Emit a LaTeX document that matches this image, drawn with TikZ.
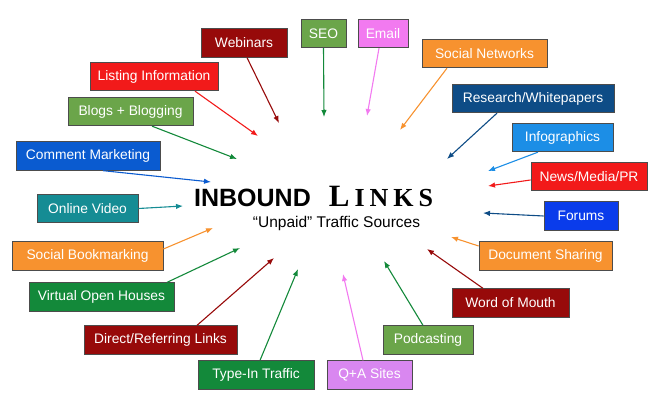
\documentclass[tikz,border=0pt]{standalone}
\usepackage{fontspec}
\setmainfont{Liberation Sans}
\newfontfamily\titleserif{Liberation Serif}
\usetikzlibrary{arrows.meta}
\definecolor{wine}{HTML}{970A0A}
\definecolor{leaf}{HTML}{6BA54A}
\definecolor{pinkv}{HTML}{F27AF0}
\definecolor{tang}{HTML}{F7922F}
\definecolor{deepblue}{HTML}{0E4C86}
\definecolor{sky}{HTML}{1C8EE6}
\definecolor{scarlet}{HTML}{F21A1A}
\definecolor{royal}{HTML}{0A3CEB}
\definecolor{lilac}{HTML}{D987F0}
\definecolor{forest}{HTML}{13893A}
\definecolor{tealx}{HTML}{158C94}
\definecolor{cobalt}{HTML}{0A5BD0}

\begin{document}
\begin{tikzpicture}[x=1pt,y=-1pt,
  src/.style={rectangle,draw=black!70,line width=0.8pt,fill=#1,text=white,
              font=\fontsize{13.8}{16}\selectfont,minimum height=28.5pt,inner sep=0pt},
  arr/.style={-{Latex[length=7pt,width=5.5pt]},line width=1.1pt,color=#1}
]
  \useasboundingbox (0,0) rectangle (660,406);

  % title
  \node[anchor=base,font=\fontsize{25}{28}\selectfont\bfseries] (inb) at (252.5,206) {INBOUND};
  \node[anchor=base,font=\titleserif\bfseries] (lnk) at (381,206)
    {\fontsize{31}{32}\selectfont L\kern5pt\fontsize{26}{28}\selectfont I\kern5pt N\kern5pt K\kern5pt S};
  \node[anchor=base,font=\fontsize{15.5}{18}\selectfont] (sub) at (336.5,227) {“Unpaid” Traffic Sources};

  % sources, top half
  \node[src=wine,minimum width=86pt]      (web)  at (244,43)    {Webinars};
  \node[src=leaf,minimum width=45pt]      (seo)  at (323.5,33.5) {SEO};
  \node[src=pinkv,minimum width=50pt]     (eml)  at (383,33.5)  {Email};
  \node[src=scarlet,minimum width=128pt]  (lst)  at (154,76.5)  {Listing Information};
  \node[src=tang,minimum width=125pt]     (soc)  at (484.5,53.5) {Social Networks};
  \node[src=leaf,minimum width=125pt]     (blg)  at (130.5,111.5) {Blogs + Blogging};
  \node[src=deepblue,minimum width=162pt] (res)  at (533,98.5)  {Research/Whitepapers};
  \node[src=sky,minimum width=101pt]      (inf)  at (562.5,137.5) {Infographics};
  \node[src=cobalt,minimum width=144pt]   (cmt)  at (88,156)    {Comment Marketing};
  \node[src=scarlet,minimum width=116pt]  (news) at (589,176.5) {News/Media/PR};
  \node[src=tealx,minimum width=101pt]    (vid)  at (87.5,208.5) {Online Video};
  \node[src=royal,minimum width=74pt]     (frm)  at (581,216)   {Forums};

  % sources, bottom half
  \node[src=tang,minimum width=151pt]     (sbm)  at (87.5,256)  {Social Bookmarking};
  \node[src=tang,minimum width=133pt]     (doc)  at (545.5,256) {Document Sharing};
  \node[src=forest,minimum width=145pt]   (voh)  at (101.5,297) {Virtual Open Houses};
  \node[src=wine,minimum width=117pt]     (wom)  at (510.5,303) {Word of Mouth};
  \node[src=wine,minimum width=153pt]     (drl)  at (160.5,340) {Direct/Referring Links};
  \node[src=leaf,minimum width=90pt]      (pod)  at (428,340)   {Podcasting};
  \node[src=forest,minimum width=116pt]   (tit)  at (256,375)   {Type-In Traffic};
  \node[src=lilac,minimum width=85pt]     (qas)  at (369.5,375) {Q+A Sites};

  % arrow tips around the title
  \coordinate (tweb)  at (279,123);
  \coordinate (tseo)  at (324,117);
  \coordinate (teml)  at (367,116);
  \coordinate (tlst)  at (258,136);
  \coordinate (tsoc)  at (400,130);
  \coordinate (tblg)  at (237,159);
  \coordinate (tres)  at (447,159);
  \coordinate (tinf)  at (488,171);
  \coordinate (tcmt)  at (211,182);
  \coordinate (tnews) at (488,186);
  \coordinate (tvid)  at (183,206);
  \coordinate (tfrm)  at (483,213);
  \coordinate (tsbm)  at (213,228);
  \coordinate (tdoc)  at (451,237);
  \coordinate (tvoh)  at (240,248);
  \coordinate (twom)  at (427,249);
  \coordinate (tdrl)  at (274,258);
  \coordinate (tpod)  at (384,261);
  \coordinate (ttit)  at (298,269);
  \coordinate (tqas)  at (343,274);

  \draw[arr=wine]     ([xshift=3pt]web.south)     -- (tweb);
  \draw[arr=forest]   (seo.south)                 -- (tseo);
  \draw[arr=pinkv]    ([xshift=-4pt]eml.south)    -- (teml);
  \draw[arr=scarlet]  ([xshift=41pt]lst.south)    -- (tlst);
  \draw[arr=tang]     ([xshift=-37.5pt]soc.south) -- (tsoc);
  \draw[arr=forest]   ([xshift=21.5pt]blg.south)  -- (tblg);
  \draw[arr=deepblue] ([xshift=-36pt]res.south)   -- (tres);
  \draw[arr=sky]      ([xshift=-24.5pt]inf.south) -- (tinf);
  \draw[arr=cobalt]   ([xshift=15pt]cmt.south)    -- (tcmt);
  \draw[arr=scarlet]  ([yshift=-3.5pt]news.west)  -- (tnews);
  \draw[arr=tealx]    (vid.east)                  -- (tvid);
  \draw[arr=deepblue] (frm.west)                  -- (tfrm);
  \draw[arr=tang]     ([yshift=7pt]sbm.east)      -- (tsbm);
  \draw[arr=tang]     ([yshift=10pt]doc.west)     -- (tdoc);
  \draw[arr=forest]   ([xshift=65.5pt]voh.north)  -- (tvoh);
  \draw[arr=wine]     ([xshift=-27.5pt]wom.north) -- (twom);
  \draw[arr=wine]     ([xshift=36.5pt]drl.north)  -- (tdrl);
  \draw[arr=forest]   ([xshift=-5pt]pod.north)    -- (tpod);
  \draw[arr=forest]   ([xshift=4pt]tit.north)     -- (ttit);
  \draw[arr=pinkv]    ([xshift=-6.5pt]qas.north)  -- (tqas);
\end{tikzpicture}
\end{document}
